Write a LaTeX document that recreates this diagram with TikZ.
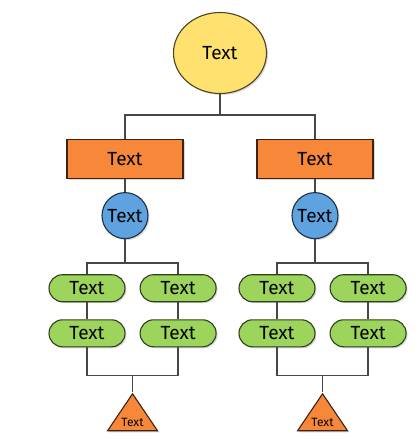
\documentclass[tikz,border=0pt]{standalone}
\usepackage{fontspec}
\setmainfont{Fira Sans}
\usetikzlibrary{calc}
\usetikzlibrary{positioning}
\usetikzlibrary{shapes.geometric}
\usetikzlibrary{shadows}
\definecolor{rootfill}{HTML}{FFE170}
\definecolor{blockfill}{HTML}{F7883A}
\definecolor{ballfill}{HTML}{5FA2E0}
\definecolor{pillfill}{HTML}{9CD45C}
\definecolor{linkgray}{HTML}{474747}
\tikzstyle{root} = [ellipse, draw=black!70!rootfill, fill=rootfill, line width=1.1pt,
    minimum width=93pt, minimum height=81pt, font=\fontsize{19}{19}\selectfont,
    drop shadow={opacity=0.3, shadow xshift=1.5pt, shadow yshift=-1.5pt}]
\tikzstyle{block} = [rectangle, draw=black!75!blockfill, fill=blockfill, line width=1.1pt,
    minimum width=116pt, minimum height=39pt, font=\fontsize{19}{19}\selectfont,
    drop shadow={opacity=0.3, shadow xshift=1.5pt, shadow yshift=-1.5pt}]
\tikzstyle{ball} = [circle, draw=black!70!ballfill, fill=ballfill, line width=1.1pt,
    minimum size=46pt, inner sep=0pt, font=\fontsize{19}{19}\selectfont,
    drop shadow={opacity=0.3, shadow xshift=1.5pt, shadow yshift=-1.5pt}]
\tikzstyle{pill} = [rectangle, rounded corners=13.5pt, draw=black!70!pillfill, fill=pillfill,
    line width=1.1pt, minimum width=76pt, minimum height=27pt, inner sep=0pt,
    font=\fontsize{19}{19}\selectfont,
    drop shadow={opacity=0.3, shadow xshift=1.5pt, shadow yshift=-1.5pt}]
\tikzstyle{tri} = [isosceles triangle, shape border rotate=90, isosceles triangle stretches,
    draw=black!75!blockfill, fill=blockfill, line width=1.1pt,
    minimum width=50pt, minimum height=37pt, inner sep=0pt, font=\fontsize{12}{12}\selectfont,
    drop shadow={opacity=0.3, shadow xshift=1.5pt, shadow yshift=-1.5pt}]
\tikzstyle{link} = [draw=linkgray, line width=1.6pt]

\begin{document}
\begin{tikzpicture}[x=1pt,y=-1pt]
    \useasboundingbox (0,0) rectangle (419,444);

    \node[root] (root) at (220,53) {Text};

    \node[block] (lblock) at (125,159) {Text};
    \node[block] (rblock) at (315,159) {Text};

    \node[ball,below=13pt of lblock] (lball) {Text};
    \node[ball,below=13pt of rblock] (rball) {Text};

    % left group
    \node[pill,below=35pt of lball,xshift=-38pt] (lpill1) {Text};
    \node[pill,right=14pt of lpill1] (lpill2) {Text};
    \node[pill,below=17pt of lpill1] (lpill3) {Text};
    \node[pill,below=17pt of lpill2] (lpill4) {Text};
    \coordinate (ljoin) at ($(lpill3.south)!0.5!(lpill4.south)+(0,28)$);
    \node[tri,anchor=apex] (ltri) at ($(ljoin)+(0,17)$) {Text};

    % right group
    \node[pill,below=35pt of rball,xshift=-38pt] (rpill1) {Text};
    \node[pill,right=14pt of rpill1] (rpill2) {Text};
    \node[pill,below=17pt of rpill1] (rpill3) {Text};
    \node[pill,below=17pt of rpill2] (rpill4) {Text};
    \coordinate (rjoin) at ($(rpill3.south)!0.5!(rpill4.south)+(0,28)$);
    \node[tri,anchor=apex] (rtri) at ($(rjoin)+(0,17)$) {Text};

    \draw[link] (root.south) -- ++(0,21) -| (lblock.north);
    \draw[link] (root.south) ++(0,21) -| (rblock.north);
    \draw[link] (lblock) -- (lball);
    \draw[link] (rblock) -- (rball);

    \draw[link] (lball.south) -- ++(0,24) -| (lpill1.north);
    \draw[link] (lball.south) ++(0,24) -| (lpill2.north);
    \draw[link] (lpill1) -- (lpill3);
    \draw[link] (lpill2) -- (lpill4);
    \draw[link] (lpill3.south) -- ++(0,28) -| (lpill4.south);
    \draw[link] (ljoin) -- (ltri.apex);

    \draw[link] (rball.south) -- ++(0,24) -| (rpill1.north);
    \draw[link] (rball.south) ++(0,24) -| (rpill2.north);
    \draw[link] (rpill1) -- (rpill3);
    \draw[link] (rpill2) -- (rpill4);
    \draw[link] (rpill3.south) -- ++(0,28) -| (rpill4.south);
    \draw[link] (rjoin) -- (rtri.apex);
\end{tikzpicture}
\end{document}
